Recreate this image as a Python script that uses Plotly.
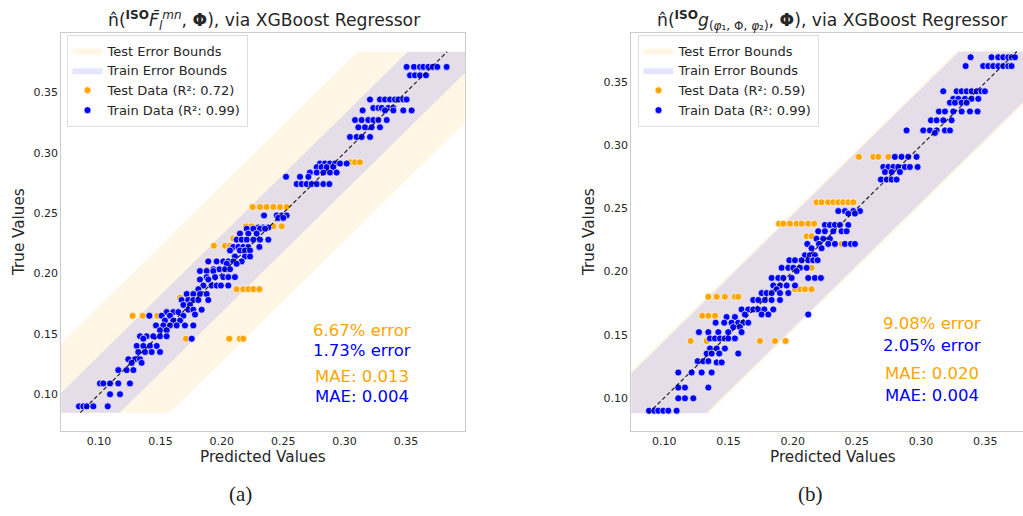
import plotly.graph_objects as go

# ---------------- data: panel (a) ----------------
A_TRAIN_TRUE = [0.371, 0.364, 0.344, 0.337, 0.335, 0.327, 0.321, 0.313, 0.291, 0.288,
                0.2835, 0.280, 0.274, 0.248, 0.246, 0.238, 0.237, 0.233, 0.228, 0.222,
                0.219, 0.214, 0.210, 0.208, 0.2035, 0.202, 0.197, 0.195, 0.190, 0.187,
                0.183, 0.178, 0.174, 0.170, 0.166, 0.168, 0.165, 0.161, 0.157, 0.153,
                0.148, 0.146, 0.140, 0.135, 0.129, 0.126, 0.120, 0.109, 0.100, 0.090]
A_TRAIN_PRED = [
    [0.3505, 0.3565, 0.3614, 0.3641, 0.3682, 0.3717, 0.3755, 0.3831],
    [0.3533, 0.3573, 0.3614, 0.3663],
    [0.3207, 0.3288, 0.3329, 0.3370, 0.3410, 0.3438, 0.3478, 0.3505],
    [0.3234, 0.3275, 0.3302, 0.3356, 0.3397],
    [0.3147, 0.3329, 0.3397, 0.3478, 0.3546],
    [0.3085, 0.3139, 0.3193, 0.3234, 0.3275, 0.3343],
    [0.3112, 0.3166, 0.3220, 0.3288],
    [0.3044, 0.3098, 0.3139, 0.3207],
    [0.2800, 0.2840, 0.2881, 0.2922, 0.2963, 0.3017],
    [0.2773, 0.2813, 0.2854, 0.2908],
    [0.2718, 0.2773, 0.2827, 0.2881, 0.2935],
    [0.2523, 0.2637, 0.2705],
    [0.2610, 0.2650, 0.2691, 0.2732, 0.2773, 0.2827, 0.2876],
    [0.2344, 0.2447, 0.2488, 0.2528],
    [0.2460, 0.2501],
    [0.2297, 0.2338, 0.2379],
    [0.2203, 0.2257, 0.2311, 0.2352],
    [0.2148, 0.2216, 0.2284],
    [0.2121, 0.2162, 0.2203, 0.2257, 0.2311, 0.2379],
    [0.2094, 0.2135, 0.2175, 0.2216, 0.2306],
    [0.2067, 0.2148, 0.2189, 0.2230],
    [0.2107, 0.2189, 0.2230],
    [0.1890, 0.1958, 0.2012, 0.2053, 0.2094, 0.2162],
    [0.2040, 0.2121],
    [0.1931, 0.1980, 0.2026, 0.2067],
    [0.1822, 0.1877, 0.1931],
    [0.1877, 0.1945, 0.2012, 0.2053, 0.2107],
    [0.1822, 0.1890],
    [0.1850, 0.1917, 0.1958, 0.1993, 0.2053],
    [0.1809],
    [0.1714, 0.1768, 0.1822, 0.1877],
    [0.1673, 0.1727, 0.1768, 0.1809, 0.1890],
    [0.1687, 0.1741],
    [0.1727, 0.1768, 0.1836],
    [0.1782],
    [0.1551, 0.1605, 0.1646],
    [0.1410, 0.1510, 0.1578, 0.1687],
    [0.1537, 0.1605, 0.1660],
    [0.1464, 0.1524, 0.1578, 0.1632, 0.1700, 0.1768],
    [0.1497, 0.1551],
    [0.1334, 0.1388, 0.1442, 0.1497, 0.1551],
    [0.1361, 0.1755],
    [0.1307, 0.1361, 0.1415, 0.1470],
    [0.1320, 0.1375, 0.1429, 0.1497],
    [0.1239, 0.1293, 0.1334],
    [0.1266, 0.1347],
    [0.1157, 0.1225, 0.1280],
    [0.1008, 0.1035, 0.1090, 0.1157, 0.1252],
    [0.1090, 0.1171],
    [0.0837, 0.0872, 0.0900, 0.0954, 0.1071],
]
A_TEST_TRUE = [0.292, 0.255, 0.239, 0.229, 0.223, 0.203, 0.187, 0.180, 0.165, 0.146]
A_TEST_PRED = [
    [0.3044, 0.3085, 0.3125],
    [0.2251, 0.2311, 0.2365, 0.2420, 0.2474, 0.2528],
    [0.2197, 0.2243, 0.2420, 0.2488],
    [0.2094, 0.2121],
    [0.1936, 0.2026, 0.2067],
    [0.1877],
    [0.2121, 0.2175, 0.2216, 0.2257, 0.2306],
    [0.1660],
    [0.1274, 0.1356, 0.1475],
    [0.1708, 0.2061, 0.2148, 0.2175],
]
A_LIMITS = [0.0848, 0.3835]          # min / max of the values (diagonal + bands)
A_TRAIN_ERR = 0.032                  # half width of train error band
A_TEST_ERR = 0.073                   # half width of test error band
A_R2 = [0.72, 0.99]                  # test, train
A_ERR_PCT = [6.67, 1.73]
A_MAE = [0.013, 0.004]

# ---------------- data: panel (b) ----------------
B_TRAIN_TRUE = [0.370, 0.363, 0.343, 0.337, 0.334, 0.327, 0.320, 0.312, 0.310, 0.291,
                0.283, 0.279, 0.273, 0.248, 0.246, 0.237, 0.232, 0.226, 0.222, 0.2185,
                0.213, 0.209, 0.203, 0.2005, 0.195, 0.189, 0.186, 0.183, 0.1775, 0.170,
                0.166, 0.164, 0.1595, 0.156, 0.152, 0.147, 0.139, 0.135, 0.129, 0.128,
                0.120, 0.108, 0.0995, 0.0897]
B_TRAIN_PRED = [
    [0.3386, 0.3549, 0.3601, 0.3640, 0.3679, 0.3705, 0.3731],
    [0.3347, 0.3484, 0.3523, 0.3562, 0.3601, 0.3640, 0.3679, 0.3705],
    [0.3173, 0.3277, 0.3316, 0.3355, 0.3394, 0.3433, 0.3471, 0.3497],
    [0.3251, 0.3290, 0.3342, 0.3394, 0.3446],
    [0.3225, 0.3264, 0.3316, 0.3355],
    [0.3139, 0.3186, 0.3251, 0.3316, 0.3381, 0.3440],
    [0.3077, 0.3121, 0.3173, 0.3238],
    [0.2887, 0.3017, 0.3069, 0.3121, 0.3186, 0.3225],
    [0.3108],
    [0.2796, 0.2848, 0.2900, 0.2965],
    [0.2706, 0.2745, 0.2784, 0.2822, 0.2874, 0.2913, 0.2973],
    [0.2719, 0.2771, 0.2835],
    [0.2687, 0.2732, 0.2771, 0.2809],
    [0.2355, 0.2407, 0.2472, 0.2524],
    [0.2433, 0.2485],
    [0.2251, 0.2290, 0.2329, 0.2368, 0.2433],
    [0.2199, 0.2251, 0.2316, 0.2381, 0.2420],
    [0.2186, 0.2238, 0.2290],
    [0.2114, 0.2205, 0.2277, 0.2329, 0.2407, 0.2454, 0.2485],
    [0.2147, 0.2225],
    [0.2096, 0.2134, 0.2173],
    [0.1974, 0.2018, 0.2070, 0.2121, 0.2160, 0.2194],
    [0.1914, 0.1966, 0.2005, 0.2057, 0.2109],
    [0.2031],
    [0.1836, 0.1888, 0.1927, 0.1992, 0.2121, 0.2173, 0.2220],
    [0.1849, 0.1901, 0.1953, 0.2018],
    [0.1875],
    [0.1758, 0.1797, 0.1836, 0.1901, 0.1966],
    [0.1693, 0.1732, 0.1784, 0.1836, 0.1901],
    [0.1602, 0.1654, 0.1693, 0.1732, 0.1779, 0.1849],
    [0.1628, 0.1758, 0.1810, 0.2121],
    [0.1485, 0.1550],
    [0.1400, 0.1467, 0.1524, 0.1576, 0.1615, 0.1654],
    [0.1537, 0.1589],
    [0.1270, 0.1343, 0.1421, 0.1498, 0.1602],
    [0.1356, 0.1395, 0.1434, 0.1472, 0.1498, 0.1550],
    [0.1356, 0.1408, 0.1472],
    [0.1330, 0.1369, 0.1428, 0.1576],
    [0.1260, 0.1304, 0.1343],
    [0.1408, 0.1447],
    [0.1109, 0.1213, 0.1291, 0.1369],
    [0.1109, 0.1161, 0.1343],
    [0.1109, 0.1161, 0.1226],
    [0.0881, 0.0922, 0.0953, 0.0992, 0.1031, 0.1096],
]
B_TEST_TRUE = [0.291, 0.255, 0.238, 0.228, 0.222, 0.203, 0.186, 0.180, 0.165, 0.145]
B_TEST_PRED = [
    [0.2516, 0.2628, 0.2667, 0.2745],
    [0.2186, 0.2225, 0.2277, 0.2316, 0.2355, 0.2394, 0.2433, 0.2472],
    [0.1893, 0.1927, 0.1979, 0.2031, 0.2070, 0.2121, 0.2168],
    [0.2109, 0.2147],
    [0.2381],
    [0.2147],
    [0.2018, 0.2057, 0.2096, 0.2147],
    [0.1343, 0.1408, 0.1472, 0.1550, 0.1576],
    [0.1296, 0.1343, 0.1395],
    [0.1205, 0.1330, 0.1745, 0.1862, 0.1945],
]
B_LIMITS = [0.0876, 0.3746]
B_TRAIN_ERR = 0.045
B_TEST_ERR = 0.047
B_R2 = [0.59, 0.99]
B_ERR_PCT = [9.08, 2.05]
B_MAE = [0.020, 0.004]

TICKS = [0.10, 0.15, 0.20, 0.25, 0.30, 0.35]

# ---------------- styling ----------------
W, H = 1023, 516
FONT = "DejaVu Sans"
TXT = "#262626"
ORANGE = "#FFA500"
BLUE = "#0000FF"


def fx(p):
    return p / W


def fy(p):
    return 1 - p / H


def flatten(trues, preds):
    xs, ys = [], []
    for t, row in zip(trues, preds):
        for p in row:
            xs.append(p)
            ys.append(t)
    return xs, ys


def band(lims, e):
    lo, hi = lims
    return [lo - e, hi - e, hi + e, lo + e, lo - e], [lo, hi, hi, lo, lo]


fig = go.Figure()


def add_panel(xa, ya, leg, lims, e_train, e_test, tr_true, tr_pred, te_true, te_pred, r2):
    bx, by = band(lims, e_test)
    fig.add_trace(go.Scatter(x=bx, y=by, fill="toself", mode="lines", line=dict(width=0),
                             fillcolor="rgba(255,165,0,0.1)", name="Test Error Bounds",
                             xaxis=xa, yaxis=ya, legend=leg, hoverinfo="skip"))
    bx, by = band(lims, e_train)
    fig.add_trace(go.Scatter(x=bx, y=by, fill="toself", mode="lines", line=dict(width=0),
                             fillcolor="rgba(0,0,255,0.1)", name="Train Error Bounds",
                             xaxis=xa, yaxis=ya, legend=leg, hoverinfo="skip"))
    tx, ty = flatten(te_true, te_pred)
    fig.add_trace(go.Scatter(x=tx, y=ty, mode="markers", name=f"Test Data (R²: {r2[0]:.2f})",
                             marker=dict(color=ORANGE, size=7, line=dict(color="white", width=0.7)),
                             xaxis=xa, yaxis=ya, legend=leg))
    rx, ry = flatten(tr_true, tr_pred)
    fig.add_trace(go.Scatter(x=rx, y=ry, mode="markers", name=f"Train Data (R²: {r2[1]:.2f})",
                             marker=dict(color=BLUE, size=7, line=dict(color="white", width=0.7)),
                             xaxis=xa, yaxis=ya, legend=leg))
    fig.add_trace(go.Scatter(x=lims, y=lims, mode="lines", showlegend=False,
                             line=dict(color="rgba(0,0,0,0.85)", width=1.2, dash="4px,2.5px"),
                             xaxis=xa, yaxis=ya, hoverinfo="skip"))


add_panel("x", "y", "legend", A_LIMITS, A_TRAIN_ERR, A_TEST_ERR,
          A_TRAIN_TRUE, A_TRAIN_PRED, A_TEST_TRUE, A_TEST_PRED, A_R2)
add_panel("x2", "y2", "legend2", B_LIMITS, B_TRAIN_ERR, B_TEST_ERR,
          B_TRAIN_TRUE, B_TRAIN_PRED, B_TEST_TRUE, B_TEST_PRED, B_R2)

axis_common = dict(showgrid=False, zeroline=False, showline=True, mirror=True,
                   linecolor="#cccccc", linewidth=1, ticks="", tickvals=TICKS,
                   tickformat=".2f", tickfont=dict(family=FONT, size=11, color=TXT))

y_dom = [fy(431), fy(33.3)]
legend_common = dict(xanchor="left", yanchor="top", y=fy(34.5),
                     bgcolor="rgba(255,255,255,0.8)", bordercolor="#dddddd", borderwidth=1,
                     font=dict(family=FONT, size=13, color=TXT), tracegroupgap=0)
fig.update_layout(
    width=W, height=H, autosize=False,
    margin=dict(l=0, r=0, t=0, b=0),
    paper_bgcolor="white", plot_bgcolor="white",
    font=dict(family=FONT, color=TXT),
    xaxis=dict(domain=[fx(61.3), fx(465.3)], range=[0.0693, 0.3983], anchor="y", **axis_common),
    yaxis=dict(domain=y_dom, range=[0.0696, 0.3988], anchor="x", **axis_common),
    xaxis2=dict(domain=[fx(631.3), 1.0], range=[0.0743, 0.3794], anchor="y2", **axis_common),
    yaxis2=dict(domain=y_dom, range=[0.0736, 0.389], anchor="x2", **axis_common),
    legend=dict(x=fx(66.5), **legend_common),
    legend2=dict(x=fx(637.5), **legend_common),
    showlegend=True,
)

ann = []
title_a = ("n\u0302(<sup><b>ISO</b></sup><i>F\u0304</i><sub><i>l</i></sub><sup><i>mn</i></sup>, "
           "<b>Φ</b>), via XGBoost Regressor")
title_b = ("n\u0302(<sup><b>ISO</b></sup><i>g</i><sub>(<i>φ</i>₁, Φ, <i>φ</i>₂)</sub>, "
           "<b>Φ</b>), via XGBoost Regressor")
ann.append(dict(text=title_a, x=fx(264), y=fy(21), font=dict(size=17.2, color=TXT)))
ann.append(dict(text=title_b, x=fx(832), y=fy(21), font=dict(size=17.2, color=TXT)))
for cx in (263.3, 833):
    ann.append(dict(text="Predicted Values", x=fx(cx), y=fy(457), font=dict(size=15.2, color=TXT)))
for cx in (19, 589):
    ann.append(dict(text="True Values", x=fx(cx), y=fy(232), textangle=-90,
                    font=dict(size=15.2, color=TXT)))
for cx, lab in ((240, "(a)"), (810, "(b)")):
    ann.append(dict(text=lab, x=fx(cx), y=fy(494),
                    font=dict(family="Liberation Serif", size=21, color="#222222")))

for cx, ys, pct, mae in ((362, (330, 350.5, 376.5, 396.5), A_ERR_PCT, A_MAE),
                          (932, (323.7, 345.7, 373.3, 395.3), B_ERR_PCT, B_MAE)):
    ann.append(dict(text=f"{pct[0]:.2f}% error", x=fx(cx), y=fy(ys[0]), font=dict(size=16.5, color=ORANGE)))
    ann.append(dict(text=f"{pct[1]:.2f}% error", x=fx(cx), y=fy(ys[1]), font=dict(size=16.5, color=BLUE)))
    ann.append(dict(text=f"MAE: {mae[0]:.3f}", x=fx(cx), y=fy(ys[2]), font=dict(size=16.5, color=ORANGE)))
    ann.append(dict(text=f"MAE: {mae[1]:.3f}", x=fx(cx), y=fy(ys[3]), font=dict(size=16.5, color=BLUE)))

for a in ann:
    a.setdefault("xanchor", "center")
    a.setdefault("yanchor", "middle")
    a.update(xref="paper", yref="paper", showarrow=False)
    a["font"].setdefault("family", FONT)

fig.update_layout(annotations=ann)
fig.write_html("out.html", config={"displayModeBar": False},
               post_script="document.body.style.margin='0';")
